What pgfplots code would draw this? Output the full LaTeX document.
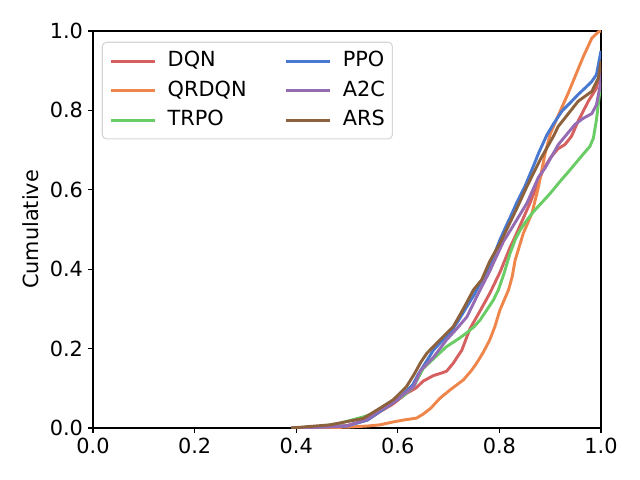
\documentclass[border=0pt]{standalone}
\usepackage{fontspec}
\setmainfont{DejaVu Sans}
\usepackage{pgfplots}
\pgfplotsset{compat=1.18}
\definecolor{cDQN}{RGB}{214,95,95}
\definecolor{cQRDQN}{RGB}{238,133,74}
\definecolor{cTRPO}{RGB}{106,204,100}
\definecolor{cPPO}{RGB}{72,120,208}
\definecolor{cA2C}{RGB}{149,108,180}
\definecolor{cARS}{RGB}{140,97,60}
\begin{document}
\begin{tikzpicture}
\path[use as bounding box] (0,0) rectangle (460.8pt,345.6pt);
\begin{axis}[
  at={(66.96pt,37.44pt)}, anchor=south west,
  scale only axis, width=365.76pt, height=285.84pt,
  xmin=0, xmax=1, ymin=0, ymax=1,
  xtick={0,0.2,0.4,0.6,0.8,1.0}, ytick={0,0.2,0.4,0.6,0.8,1.0},
  /pgf/number format/.cd, fixed, fixed zerofill, precision=1, assume math mode=true, /pgfplots/.cd,
  tick align=outside, tick pos=left,
  major tick length=3.5pt,
  every tick/.style={black, line width=0.8pt},
  axis line style={line width=0.8pt},
  tick label style={font=\fontsize{15}{18}\selectfont},
  xticklabel style={inner sep=0pt, yshift=-3.5pt},
  yticklabel style={inner sep=0pt, xshift=-3.5pt},
  ylabel={Cumulative},
  ylabel style={font=\fontsize{15}{18}\selectfont, at={(axis description cs:-0.122,0.5)}, anchor=center},
  legend columns=2,
  legend image code/.code={\draw[#1, line width=2.1pt] (0pt,0pt) -- (31.2pt,0pt);},
  legend style={at={(axis description cs:0,1)}, anchor=north west, xshift=6.3pt, yshift=-7.7pt,
    draw=black!16, line width=0.8pt, rounded corners=3pt, fill=white, fill opacity=0.8, text opacity=1,
    font=\fontsize{15}{18}\selectfont,
    inner xsep=5.4pt, inner ysep=6.6pt,
    nodes={inner sep=0pt, text height=10.9pt, text depth=3pt},
    row sep=7.34pt, column sep=8.4pt,
    /tikz/every even column/.append style={column sep=27.6pt}},
  legend cell align=left,
]
\addplot[cDQN, line width=2.1pt, line join=round, forget plot] coordinates {
(0.39,0) (0.45,0.003) (0.5,0.006) (0.54,0.02) (0.565,0.041) (0.59,0.06) (0.617,0.087) (0.635,0.10) (0.65,0.118) (0.67,0.132) (0.685,0.138) (0.696,0.143) (0.709,0.163) (0.726,0.196) (0.742,0.250) (0.762,0.295) (0.781,0.339) (0.801,0.392) (0.821,0.455) (0.831,0.482) (0.860,0.566) (0.886,0.650) (0.900,0.680) (0.915,0.703) (0.929,0.714) (0.942,0.735) (0.955,0.773) (0.975,0.823) (0.991,0.856) (1.0,0.91)};
\addplot[cQRDQN, line width=2.1pt, line join=round, forget plot] coordinates {
(0.39,0) (0.45,0.001) (0.5,0.002) (0.54,0.005) (0.565,0.008) (0.59,0.015) (0.611,0.020) (0.637,0.025) (0.650,0.035) (0.665,0.05) (0.683,0.075) (0.703,0.096) (0.729,0.121) (0.745,0.145) (0.755,0.163) (0.768,0.19) (0.781,0.222) (0.791,0.255) (0.801,0.297) (0.818,0.348) (0.825,0.38) (0.831,0.423) (0.847,0.490) (0.864,0.541) (0.877,0.608) (0.890,0.692) (0.900,0.740) (0.912,0.776) (0.936,0.845) (0.965,0.935) (0.982,0.982) (0.995,0.998) (1.0,1.0)};
\addplot[cTRPO, line width=2.1pt, line join=round, forget plot] coordinates {
(0.39,0) (0.45,0.004) (0.486,0.012) (0.532,0.028) (0.56,0.04) (0.585,0.062) (0.61,0.08) (0.631,0.104) (0.65,0.15) (0.675,0.18) (0.696,0.205) (0.72,0.225) (0.736,0.24) (0.75,0.255) (0.762,0.272) (0.775,0.297) (0.788,0.322) (0.798,0.348) (0.808,0.385) (0.821,0.440) (0.831,0.474) (0.841,0.499) (0.855,0.525) (0.867,0.545) (0.883,0.567) (0.900,0.591) (0.92,0.622) (0.939,0.650) (0.965,0.690) (0.978,0.709) (0.985,0.730) (0.991,0.776) (0.996,0.83) (1.0,0.87)};
\addplot[cPPO, line width=2.1pt, line join=round, forget plot] coordinates {
(0.39,0) (0.45,0.003) (0.5,0.005) (0.54,0.02) (0.565,0.042) (0.6,0.072) (0.63,0.11) (0.64,0.135) (0.655,0.165) (0.67,0.196) (0.686,0.218) (0.703,0.239) (0.72,0.272) (0.736,0.306) (0.75,0.335) (0.762,0.364) (0.775,0.395) (0.788,0.431) (0.801,0.474) (0.814,0.511) (0.821,0.530) (0.835,0.57) (0.850,0.608) (0.867,0.66) (0.877,0.692) (0.893,0.737) (0.906,0.765) (0.923,0.798) (0.94,0.82) (0.955,0.840) (0.97,0.858) (0.982,0.873) (0.991,0.890) (1.0,0.95)};
\addplot[cA2C, line width=2.1pt, line join=round, forget plot] coordinates {
(0.39,0) (0.45,0.002) (0.499,0.005) (0.539,0.022) (0.565,0.045) (0.598,0.071) (0.631,0.104) (0.645,0.145) (0.67,0.178) (0.696,0.222) (0.716,0.25) (0.736,0.280) (0.762,0.348) (0.781,0.395) (0.788,0.415) (0.808,0.470) (0.814,0.482) (0.834,0.524) (0.854,0.566) (0.877,0.632) (0.890,0.655) (0.916,0.714) (0.949,0.765) (0.965,0.78) (0.982,0.792) (0.991,0.814) (0.998,0.86) (1.0,0.90)};
\addplot[cARS, line width=2.1pt, line join=round, forget plot] coordinates {
(0.39,0) (0.467,0.008) (0.532,0.024) (0.565,0.050) (0.591,0.071) (0.617,0.104) (0.632,0.135) (0.645,0.165) (0.657,0.188) (0.683,0.222) (0.709,0.255) (0.729,0.300) (0.749,0.348) (0.765,0.373) (0.781,0.420) (0.801,0.465) (0.814,0.499) (0.835,0.555) (0.854,0.608) (0.880,0.675) (0.906,0.734) (0.916,0.760) (0.926,0.776) (0.955,0.823) (0.982,0.848) (0.995,0.882) (1.0,0.925)};
\addlegendimage{cDQN}\addlegendentry{DQN}
\addlegendimage{cPPO}\addlegendentry{PPO}
\addlegendimage{cQRDQN}\addlegendentry{QRDQN}
\addlegendimage{cA2C}\addlegendentry{A2C}
\addlegendimage{cTRPO}\addlegendentry{TRPO}
\addlegendimage{cARS}\addlegendentry{ARS}
\end{axis}
\end{tikzpicture}
\end{document}
